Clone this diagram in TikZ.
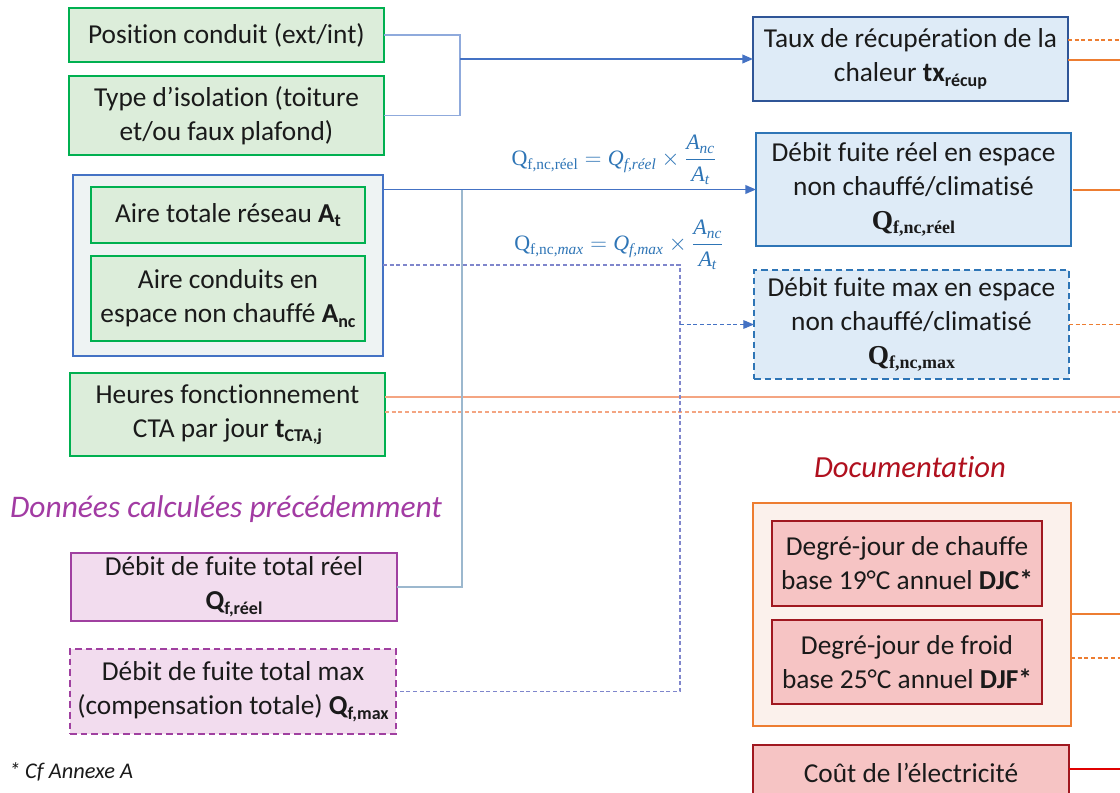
\documentclass[tikz,border=0pt]{standalone}
\usepackage{amsmath}
\usepackage{fontspec}
\setmainfont{Carlito}[Ligatures={NoCommon}, Contextuals={NoAlternate}]
\newfontfamily\cambria{Liberation Serif}
\usetikzlibrary{arrows.meta}

\definecolor{grnline}{HTML}{00B050}
\definecolor{grnfill}{HTML}{DCEDDA}
\definecolor{grpblue}{HTML}{4472C4}
\definecolor{grpfill}{HTML}{EEF3F3}
\definecolor{darkblue}{HTML}{2F5597}
\definecolor{midblue}{HTML}{2E75B6}
\definecolor{bluefill}{HTML}{DEEBF7}
\definecolor{brkblue}{HTML}{8FAADC}
\definecolor{steel}{HTML}{9CB8CE}
\definecolor{dashblue}{HTML}{7F86CC}
\definecolor{purp}{HTML}{A040A0}
\definecolor{purpfill}{HTML}{F2DCEE}
\definecolor{purptxt}{HTML}{A23BA3}
\definecolor{orng}{HTML}{ED7D31}
\definecolor{lorng}{HTML}{F4A582}
\definecolor{docfill}{HTML}{FBF1EC}
\definecolor{dred}{HTML}{A01820}
\definecolor{redfill}{HTML}{F6C4C4}
\definecolor{doctxt}{HTML}{B0101E}
\definecolor{brightred}{HTML}{E00000}
\definecolor{txt}{HTML}{1A1A1A}

% sub-/superscript helpers
\newcommand{\sbx}[1]{\raisebox{-0.35ex}{\fontsize{13.5}{13.5}\selectfont #1}}
\newcommand{\cmr}[1]{\text{\cambria #1}}
\newcommand{\cmi}[1]{\text{\cambria\itshape #1}}

\tikzset{
  every node/.style={inner sep=0pt, outer sep=0pt},
  boxtxt/.style={align=center, text=txt, font=\fontsize{20.5}{25.5}\selectfont},
  greenbox/.style={boxtxt, draw=grnline, fill=grnfill, line width=1.5pt},
  bluebox/.style={boxtxt, draw=midblue, fill=bluefill, line width=1.5pt},
  purpbox/.style={boxtxt, draw=purp, fill=purpfill, line width=1.5pt},
  redbox/.style={boxtxt, draw=dred, fill=redfill, line width=1.2pt},
  formula/.style={text=midblue, font=\fontsize{16.5}{18}\selectfont},
  tip/.style={-{Triangle[length=8pt,width=6.5pt]}},
  bracket/.style={draw=brkblue, line width=0.9pt},
  bluearrow/.style={draw=grpblue, line width=1.3pt, tip, color=grpblue},
  steelline/.style={draw=steel, line width=1.2pt},
  dashline/.style={draw=dashblue, line width=0.8pt, dash pattern=on 3pt off 2pt},
  orline/.style={draw=orng, line width=1.2pt},
  ordash/.style={draw=orng, line width=0.8pt, dash pattern=on 3pt off 2pt},
  lorline/.style={draw=lorng, line width=0.9pt},
  lordash/.style={draw=lorng, line width=0.9pt, dash pattern=on 3pt off 2pt},
}

\begin{document}
\begin{tikzpicture}[x=0.75pt, y=-0.75pt]
\clip (0,0) rectangle (1120,792);
\fill[white] (0,0) rectangle (1120,792);

% ---------- input data ----------
\node[greenbox, minimum width=236.25pt, minimum height=40.5pt] (pos) at (226.5,35)
  {Position conduit (ext/int)};
\node[greenbox, minimum width=236.25pt, minimum height=59.25pt] (iso) at (226.5,115.5)
  {Type d’isolation (toiture\\et/ou faux plafond)};

\node[draw=grpblue, fill=grpfill, line width=2pt, minimum width=232.5pt, minimum height=135.75pt] (grp) at (228,265.5) {};
\node[greenbox, minimum width=205.5pt, minimum height=42pt] (at) at (228,215)
  {Aire totale réseau \textbf{A\sbx{t}}};
\node[greenbox, minimum width=205.5pt, minimum height=63.75pt] (anc) at (228,298.5)
  {Aire conduits en\\espace non chauffé \textbf{A\sbx{nc}}};

\node[greenbox, minimum width=236.25pt, minimum height=62.25pt] (heures) at (227.5,414.5)
  {Heures fonctionnement\\CTA par jour \textbf{t\sbx{CTA,j}}};

\node[text=purptxt, font=\fontsize{23.6}{26}\selectfont\itshape] (donnees) at (226,509)
  {Données calculées précédemment};

\node[purpbox, minimum width=244.5pt, minimum height=51pt] (qreel) at (234,587)
  {Débit de fuite total réel\\\textbf{Q\sbx{f,réel}}};
\node[purpbox, dash pattern=on 5pt off 3pt, minimum width=244.5pt, minimum height=63.75pt] (qmax) at (233,691.5)
  {Débit de fuite total max\\(compensation totale) \textbf{Q\sbx{f,max}}};

\node[anchor=west, text=txt, font=\fontsize{16.8}{18}\selectfont\itshape] (annexe) at (9,772)
  {* Cf Annexe A};

% ---------- computed quantities ----------
\node[boxtxt, draw=darkblue, fill=bluefill, line width=1.5pt, minimum width=236.25pt, minimum height=63pt] (taux) at (910.5,59)
  {Taux de récupération de la\\chaleur \textbf{tx\sbx{récup}}};
\node[bluebox, minimum width=236.25pt, minimum height=84.75pt] (dreel) at (913.5,189.5)
  {Débit fuite réel en espace\\non chauffé/climatisé\\{\cambria\bfseries Q\sbx{f,nc,réel}}};
\node[bluebox, dash pattern=on 5pt off 3pt, minimum width=236.25pt, minimum height=81.75pt] (dmax) at (911.5,324.5)
  {Débit fuite max en espace\\non chauffé/climatisé\\{\cambria\bfseries Q\sbx{f,nc,max}}};

% ---------- documentation ----------
\node[text=doctxt, font=\fontsize{23}{26}\selectfont\itshape] (doclabel) at (910,467) {Documentation};
\node[draw=orng, fill=docfill, line width=1.8pt, minimum width=238.5pt, minimum height=167.25pt] (doc) at (912,614.5) {};
\node[redbox, minimum width=202.5pt, minimum height=63.75pt] (djc) at (907,563.5)
  {Degré-jour de chauffe\\base 19°C annuel \textbf{DJC*}};
\node[redbox, minimum width=202.5pt, minimum height=63pt] (djf) at (907,662)
  {Degré-jour de froid\\base 25°C annuel \textbf{DJF*}};
\node[redbox, minimum width=237pt, minimum height=41.25pt] (cout) at (911,772.5)
  {Coût de l’électricité};

% ---------- formulas ----------
\node[formula] (f1) at (614,160)
  {$\cmr{Q}_{\cmr{f,nc,réel}} = \cmi{Q}_{\cmi{f,réel}} \times \dfrac{\cmi{A}_{\cmi{nc}}}{\cmi{A}_{\cmi{t}}}$};
\node[formula] (f2) at (619,245)
  {$\cmr{Q}_{\cmr{f,nc,}\cmi{max}} = \cmi{Q}_{\cmi{f,max}} \times \dfrac{\cmi{A}_{\cmi{nc}}}{\cmi{A}_{\cmi{t}}}$};

% ---------- junction points ----------
\coordinate (j1) at (460,59);
\coordinate (jr) at (462,189.5);
\coordinate (jm) at (680,265);
\coordinate (jd) at (680,324.5);
\coordinate (rim) at (1120,0);
\coordinate (dout) at (1073,190);

% ---------- connectors ----------
\draw[bracket] (pos.east) -| (j1) |- (iso.east);
\draw[bluearrow] (j1) -- (taux.west);

\draw[lorline] (heures.east |- 0,397) -- (rim |- 0,397);
\draw[lordash] (heures.east |- 0,412) -- (rim |- 0,412);

\draw[steelline] (qreel.east) -| (jr);
\draw[bluearrow] (grp.east |- dreel.west) -- (dreel.west);

\draw[dashline] (grp.east |- jm) -- (jm) |- (qmax.east);
\draw[dashline, tip, color=grpblue] (jd) -- (dmax.west);

% outputs leaving to the right
\draw[ordash] (taux.east |- 0,40) -- (rim |- 0,40);
\draw[orline] (taux.east |- 0,60) -- (rim |- 0,60);
\draw[orline] (dout) -- (rim |- dout);
\draw[ordash] (dmax.east) -- (rim |- dmax.east);
\draw[orline] (doc.east |- 0,614) -- (rim |- 0,614);
\draw[ordash] (doc.east |- 0,658) -- (rim |- 0,658);
\draw[draw=brightred, line width=1.8pt] (cout.east |- 0,769) -- (rim |- 0,769);
\end{tikzpicture}
\end{document}
